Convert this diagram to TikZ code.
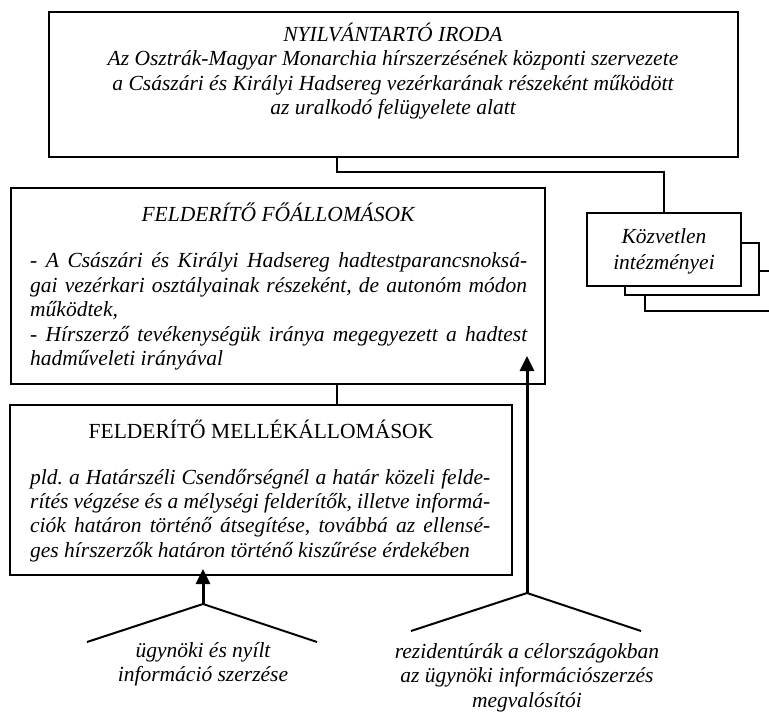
\documentclass[tikz,border=0pt]{standalone}
\usepackage{fontspec}
\setmainfont{Liberation Serif}
\usetikzlibrary{arrows.meta,calc}
\tikzset{
  box/.style={draw, line width=2pt, fill=white, inner sep=0pt},
  conn/.style={line width=2pt},
  arr/.style={line width=3pt, -{Triangle[length=15pt,width=14pt]}},
  fork/.style={line width=2pt, line join=miter},
  txt/.style={inner sep=0pt, font=\fontsize{21.5}{24.5}\selectfont\itshape},
  txtup/.style={inner sep=0pt, font=\fontsize{21.5}{24.5}\selectfont},
}
\frenchspacing
\begin{document}
\frenchspacing
\begin{tikzpicture}[x=1pt,y=-1pt]
\clip (0,0) rectangle (769,715);
\fill[white] (0,0) rectangle (769,715);
% boxes
\node[box, minimum width=689pt, minimum height=145pt] (top) at (393.5,84.5) {};
\node[box, minimum width=534pt, minimum height=196pt] (fo) at (278,286) {};
\node[box, minimum width=502pt, minimum height=170pt] (mel) at (261,490) {};
\node[box, minimum width=150pt, minimum height=40pt] (k3) at (720,291) {};
\node[box, minimum width=134pt, minimum height=52pt] (k2) at (692,269) {};
\node[box, minimum width=154pt, minimum height=73pt] (k1) at (664,249.5) {};
% top text
\node[txt, align=center] (toptxt) at (393,71) {NYILVÁNTARTÓ IRODA\\
Az Osztrák-Magyar Monarchia hírszerzésének központi szervezete\\
a Császári és Királyi Hadsereg vezérkarának részeként működött\\
az uralkodó felügyelete alatt};
% fo text
\node[txt] (fotitle) at (278,212) {FELDERÍTŐ FŐÁLLOMÁSOK};
\node[txt, anchor=west] (fo1) at (30,262) {\makebox[497pt][s]{- A Császári és Királyi Hadsereg hadtestparancsnoksá-}};
\node[txt, anchor=west] (fo2) at (30,287) {\makebox[497pt][s]{gai vezérkari osztályainak részeként, de autonóm módon}};
\node[txt, anchor=west] (fo3) at (30,311) {működtek,};
\node[txt, anchor=west] (fo4) at (30,336) {\makebox[497pt][s]{- Hírszerző tevékenységük iránya megegyezett a hadtest}};
\node[txt, anchor=west] (fo5) at (30,360) {hadműveleti irányával};
% mel text
\node[txtup] (meltitle) at (261,429) {FELDERÍTŐ MELLÉKÁLLOMÁSOK};
\node[txt, anchor=west] (mel1) at (30,479) {\makebox[460pt][s]{pld. a Határszéli Csendőrségnél a határ közeli felde-}};
\node[txt, anchor=west] (mel2) at (30,503) {\makebox[460pt][s]{rítés végzése és a mélységi felderítők, illetve informá-}};
\node[txt, anchor=west] (mel3) at (30,527) {\makebox[460pt][s]{ciók határon történő átsegítése, továbbá az ellensé-}};
\node[txt, anchor=west] (mel4) at (30,552) {ges hírszerzők határon történő kiszűrése érdekében};
% kozvetlen text
\node[txt, align=center] (ktxt) at (664,251.5) {Közvetlen\\[2pt]intézményei};
% connectors
\coordinate (jn) at (337,172);
\draw[conn] (top.south -| jn) -- (jn) -| (k1.north);
\draw[conn] (fo.south -| jn) -- (mel.north -| jn);
% forks and arrows
\coordinate (a1) at (203,604);
\coordinate (l1) at (87,642);
\coordinate (r1) at (317,642);
\coordinate (a2) at (527,593);
\coordinate (l2) at (411,631);
\coordinate (r2) at (641,631);
\draw[fork] (l1) -- (a1) -- (r1);
\draw[fork] (l2) -- (a2) -- (r2);
\draw[arr] (a1) -- ($(mel.south -| a1)+(0,-7)$);
\draw[arr] (a2) -- ($(fo.south -| a2)+(0,-29)$);
% bottom texts
\node[txt, align=center] (b1) at (203,664.5) {ügynöki és nyílt\\információ szerzése};
\node[txt, align=center] (b2) at (527,677.5) {rezidentúrák a célországokban\\az ügynöki információszerzés\\megvalósítói};
\end{tikzpicture}
\end{document}
